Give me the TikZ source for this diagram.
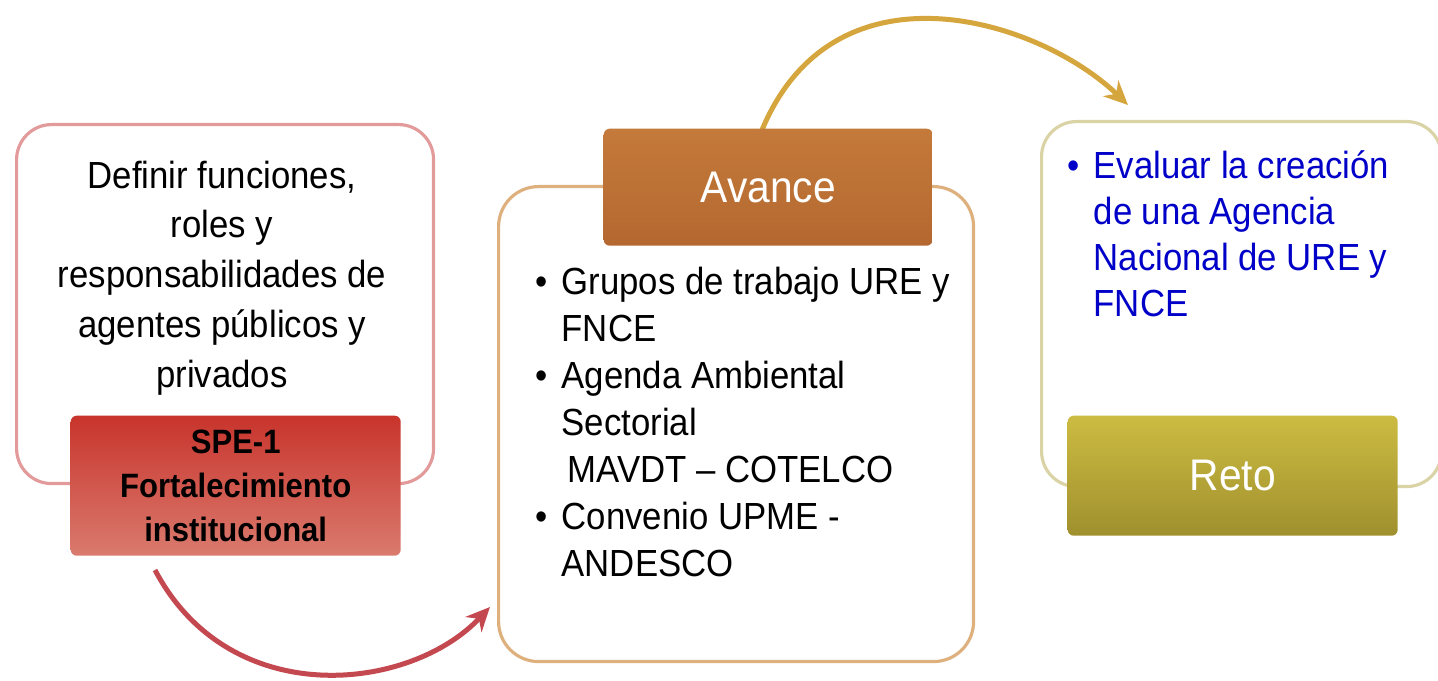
\documentclass[tikz,border=0pt]{standalone}
\usepackage{fontspec}
\setmainfont[FakeStretch=0.92]{Liberation Sans}
\usetikzlibrary{arrows.meta}
\definecolor{redline}{HTML}{E29A9A}
\definecolor{tanline}{HTML}{DDB07E}
\definecolor{oliveline}{HTML}{DAD3A6}
\definecolor{redtop}{HTML}{C8342C}
\definecolor{redbot}{HTML}{DA7A6E}
\definecolor{ortop}{HTML}{C47A3A}
\definecolor{orbot}{HTML}{B46830}
\definecolor{oltop}{HTML}{CCBC42}
\definecolor{olbot}{HTML}{A0902E}
\definecolor{goldarc}{HTML}{D6A63E}
\definecolor{redarc}{HTML}{C44850}
\definecolor{textblue}{HTML}{0000C8}
\tikzset{
  bigbox/.style={draw, line width=0.9pt, rounded corners=3.5mm, fill=white, anchor=north west, inner sep=0},
  tabbox/.style={rounded corners=0.6mm, anchor=north west, inner sep=0, align=center},
  arc/.style={line width=0.5mm, -{Stealth[length=2.4mm,width=2.2mm]}},
  body/.style={inner sep=0, font=\fontsize{10.75}{13.4}\selectfont}
}
\newcommand{\itm}{\llap{\textbullet\hspace{1.4mm}}}
\begin{document}
\begin{tikzpicture}[x=0.1mm, y=-0.1mm]
\useasboundingbox (0,0) rectangle (1438,681);
\coordinate (A_0) at (155,570);
\coordinate (A_1) at (490,607);
\draw[arc, redarc] (A_0) .. controls (230,712) and (410,692) .. (A_1);
\coordinate (A_2) at (762,130);
\coordinate (A_3) at (1128,105);
\draw[arc, goldarc] (A_2) .. controls (835,-45) and (1040,20) .. (A_3);
% left
\node[bigbox, draw=redline, minimum width=41.7mm, minimum height=35.9mm] (B_0) at (15,123) {};
\node[body, anchor=north, align=center, font=\fontsize{10.75}{14.2}\selectfont] (L_0) at (222,160)
  {Definir funciones,\\ roles y\\ responsabilidades de\\ agentes públicos y\\ privados};
\node[tabbox, top color=redtop, bottom color=redbot, minimum width=33mm, minimum height=14mm,
  font=\fontsize{9.6}{12.6}\selectfont\bfseries] (T_0) at (70,415)
  {SPE-1\\ Fortalecimiento\\ institucional};
% middle
\node[bigbox, draw=tanline, rounded corners=4mm, minimum width=47.5mm, minimum height=47.5mm] (B_1) at (497,185) {};
\node[tabbox, top color=ortop, bottom color=orbot, minimum width=32.9mm, minimum height=11.7mm,
  text=white, font=\fontsize{12.6}{14}\selectfont] (T_1) at (603,128) {Avance};
\node[body, anchor=north west, align=left] (M_0) at (561,266)
  {\itm Grupos de trabajo URE y\\ FNCE\\ \itm Agenda Ambiental\\ Sectorial\\
   \hspace{0.6mm}MAVDT – COTELCO\\ \itm Convenio UPME -\\ ANDESCO};
% right
\node[bigbox, draw=oliveline, minimum width=40mm, minimum height=36.5mm] (B_2) at (1040,120) {};
\node[body, anchor=north west, align=left, text=textblue, font=\fontsize{10.75}{13.1}\selectfont] (R_0) at (1093,150)
  {\itm Evaluar la creación\\ de una Agencia\\ Nacional de URE y\\ FNCE};
\node[tabbox, top color=oltop, bottom color=olbot, minimum width=33mm, minimum height=12mm,
  text=white, font=\fontsize{12.6}{14}\selectfont] (T_2) at (1067,415) {Reto};
\end{tikzpicture}
\end{document}
